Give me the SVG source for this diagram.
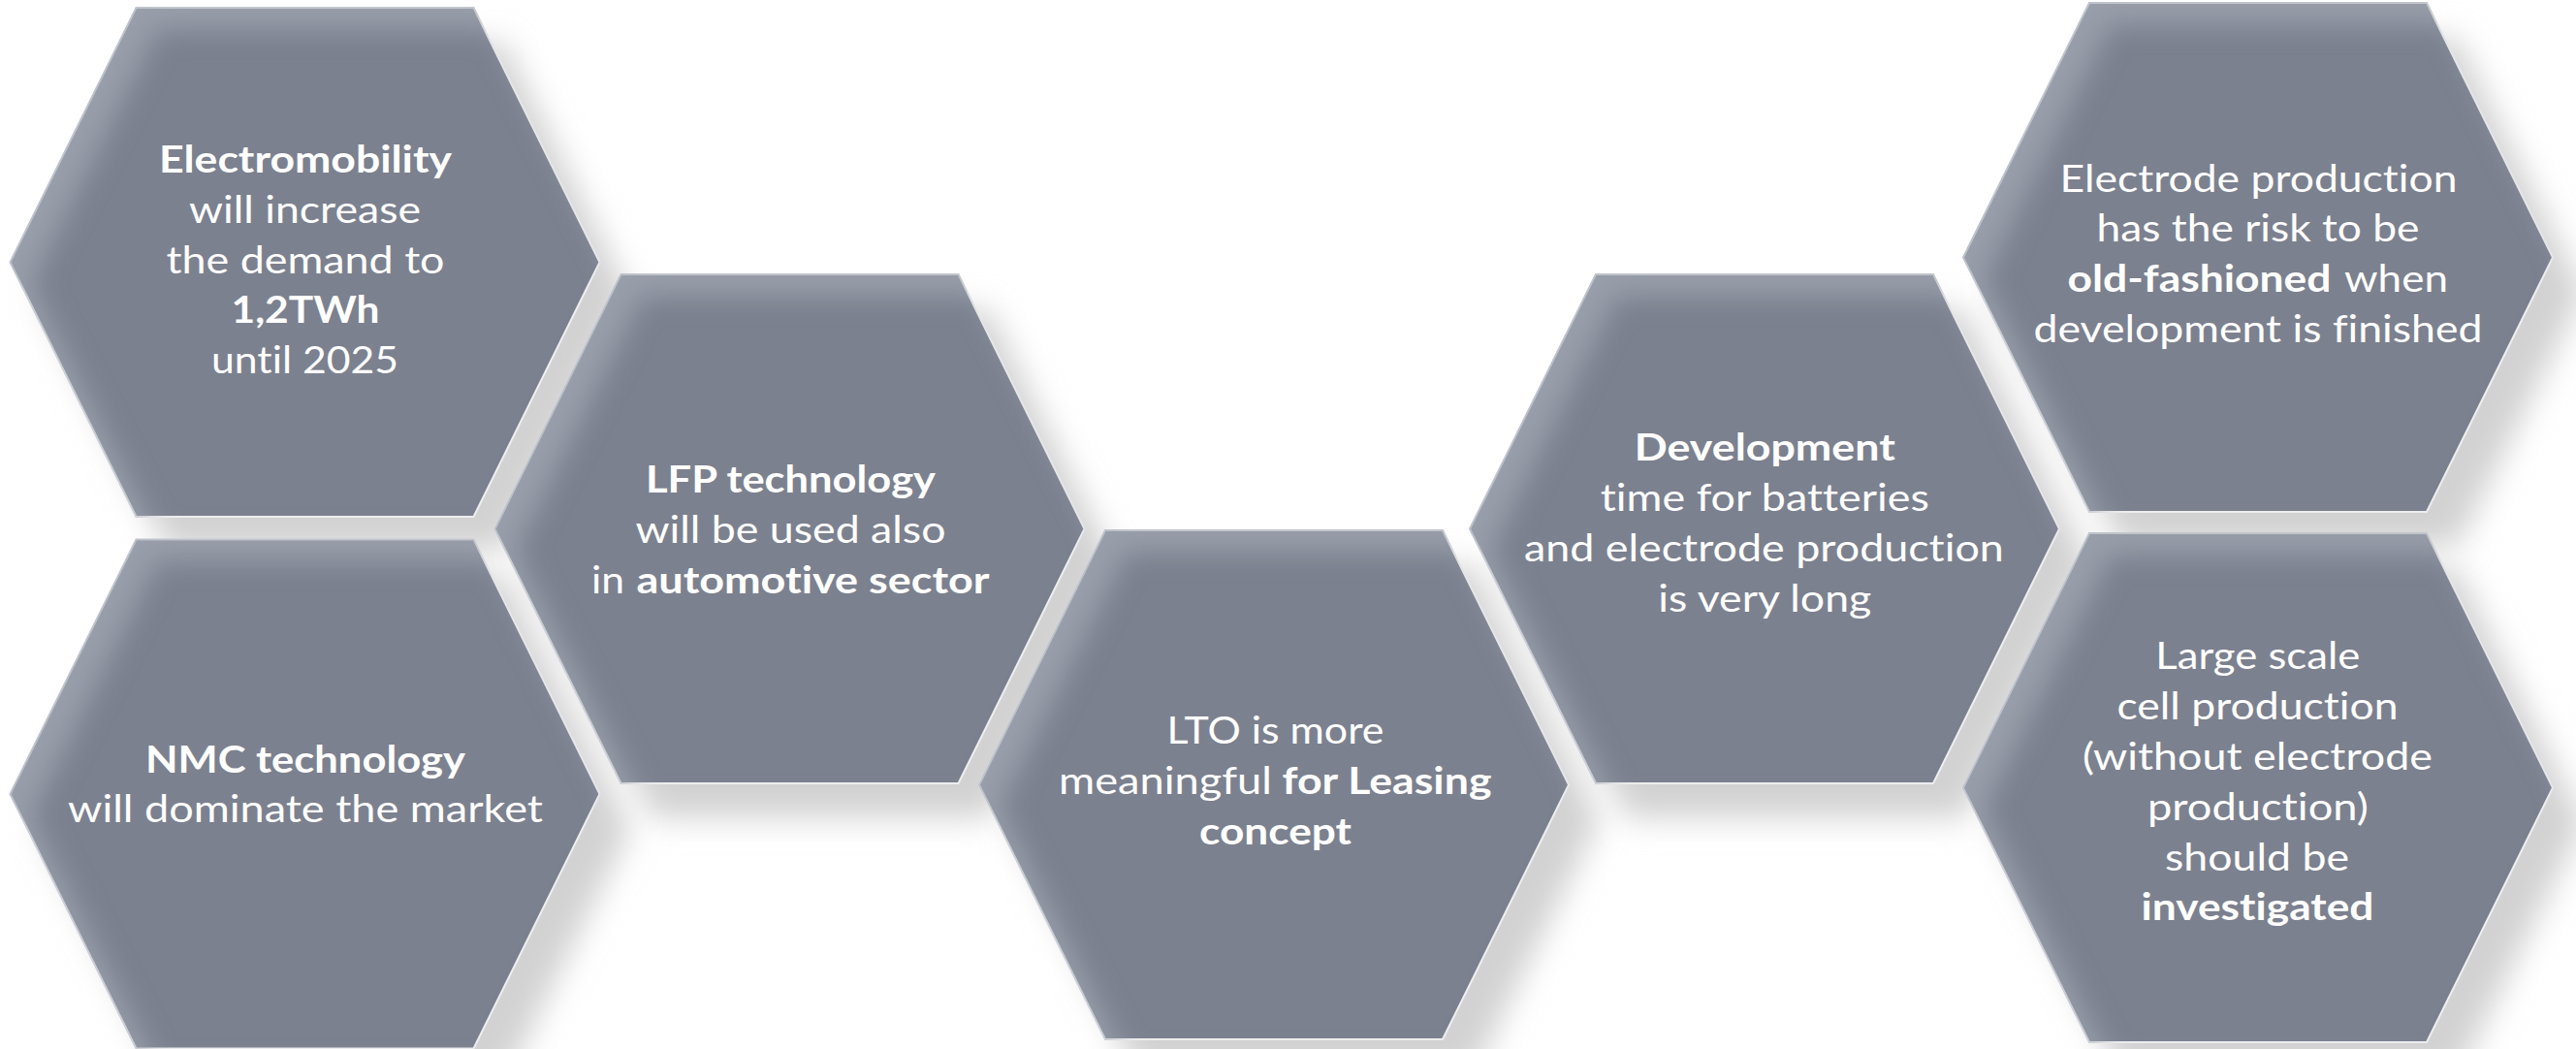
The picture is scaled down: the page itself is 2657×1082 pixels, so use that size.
<svg xmlns="http://www.w3.org/2000/svg" xmlns:xlink="http://www.w3.org/1999/xlink" width="2657" height="1082" viewBox="0 0 2657 1082">
  <style>
    .hex { fill: #7b818f; stroke: #eeeff1; stroke-width: 2; filter: url(#innerGlow); }
    .shadow { fill: #d2d2d2; filter: url(#softShadow); }
    text { font-family: Lato, "Open Sans", "Liberation Sans", sans-serif; font-size: 39px; fill: #ffffff; font-variant-ligatures: none; font-feature-settings: "liga" 0, "clig" 0; }
    .c { text-anchor: middle; }
    .b { font-weight: bold; }
  </style>
  <defs>
    <!-- flat-topped hexagon, 608 x 525 -->
    <polygon id="hex" points="0,262.5 130,0 478,0 608,262.5 478,525 130,525"/>
    <filter id="softShadow" x="-20%" y="-20%" width="140%" height="140%">
      <feGaussianBlur stdDeviation="16"/>
    </filter>
    <!-- lighter rim along the top and left edges -->
    <filter id="innerGlow" x="-5%" y="-5%" width="110%" height="110%">
      <feOffset in="SourceAlpha" dx="22" dy="22" result="off"/>
      <feGaussianBlur in="off" stdDeviation="14" result="blur"/>
      <feComposite in="SourceAlpha" in2="blur" operator="out" result="rim"/>
      <feFlood flood-color="#a3a9b4" flood-opacity="0.7"/>
      <feComposite in2="rim" operator="in" result="glow"/>
      <feMerge>
        <feMergeNode in="SourceGraphic"/>
        <feMergeNode in="glow"/>
      </feMerge>
    </filter>
  </defs>

  <rect width="2657" height="1082" fill="#ffffff"/>

  <!-- soft shadows under all cells -->
  <g id="shadows">
    <use xlink:href="#hex" class="shadow" x="42.5" y="44"/>
    <use xlink:href="#hex" class="shadow" x="42.5" y="592.5"/>
    <use xlink:href="#hex" class="shadow" x="542.5" y="319"/>
    <use xlink:href="#hex" class="shadow" x="1042" y="583"/>
    <use xlink:href="#hex" class="shadow" x="1548" y="319"/>
    <use xlink:href="#hex" class="shadow" x="2057" y="39"/>
    <use xlink:href="#hex" class="shadow" x="2057" y="586"/>
  </g>

  <g id="connectors"/>

  <g id="node-electromobility">
    <use xlink:href="#hex" class="hex" x="10.5" y="8"/>
    <text class="c b" x="315" y="177.5" textLength="302" lengthAdjust="spacingAndGlyphs">Electromobility</text>
    <text class="c" x="314.5" y="229.5" textLength="239" lengthAdjust="spacingAndGlyphs">will increase</text>
    <text class="c" x="315" y="281.5" textLength="287" lengthAdjust="spacingAndGlyphs">the demand to</text>
    <text class="c b" x="315" y="333" textLength="153" lengthAdjust="spacingAndGlyphs">1,2TWh</text>
    <text class="c" x="314.5" y="384.5" textLength="193" lengthAdjust="spacingAndGlyphs">until 2025</text>
  </g>

  <g id="node-nmc">
    <use xlink:href="#hex" class="hex" x="10.5" y="556.5"/>
    <text class="c b" x="315" y="796.5" textLength="330" lengthAdjust="spacingAndGlyphs">NMC technology</text>
    <text class="c" x="315" y="847.5" textLength="490" lengthAdjust="spacingAndGlyphs">will dominate the market</text>
  </g>

  <g id="node-lfp">
    <use xlink:href="#hex" class="hex" x="510.5" y="283"/>
    <text class="c b" x="815.5" y="508" textLength="299" lengthAdjust="spacingAndGlyphs">LFP technology</text>
    <text class="c" x="815.5" y="560" textLength="320" lengthAdjust="spacingAndGlyphs">will be used also</text>
    <text y="611.8"><tspan x="610" textLength="34" lengthAdjust="spacingAndGlyphs">in</tspan><tspan class="b" x="656.5" textLength="364" lengthAdjust="spacingAndGlyphs">automotive sector</tspan></text>
  </g>

  <g id="node-lto">
    <use xlink:href="#hex" class="hex" x="1010" y="547"/>
    <text class="c" x="1315.5" y="766.5" textLength="224" lengthAdjust="spacingAndGlyphs">LTO is more</text>
    <text y="818.5"><tspan x="1092" textLength="220" lengthAdjust="spacingAndGlyphs">meaningful</tspan><tspan class="b" x="1322.5" textLength="216" lengthAdjust="spacingAndGlyphs">for Leasing</tspan></text>
    <text class="c b" x="1315.5" y="871" textLength="157" lengthAdjust="spacingAndGlyphs">concept</text>
  </g>

  <g id="node-development">
    <use xlink:href="#hex" class="hex" x="1516" y="283"/>
    <text class="c b" x="1820.3" y="475.4" textLength="269" lengthAdjust="spacingAndGlyphs">Development</text>
    <text class="c" x="1820.3" y="527" textLength="339" lengthAdjust="spacingAndGlyphs">time for batteries</text>
    <text class="c" x="1819.4" y="579" textLength="495" lengthAdjust="spacingAndGlyphs">and electrode production</text>
    <text class="c" x="1820.3" y="630.7" textLength="220" lengthAdjust="spacingAndGlyphs">is very long</text>
  </g>

  <g id="node-electrode">
    <use xlink:href="#hex" class="hex" x="2025" y="3"/>
    <text class="c" x="2329.5" y="197.5" textLength="410" lengthAdjust="spacingAndGlyphs">Electrode production</text>
    <text class="c" x="2329" y="249.3" textLength="333" lengthAdjust="spacingAndGlyphs">has the risk to be</text>
    <text y="300.7"><tspan class="b" x="2132.5" textLength="272" lengthAdjust="spacingAndGlyphs">old-fashioned</tspan><tspan x="2418" textLength="107" lengthAdjust="spacingAndGlyphs">when</tspan></text>
    <text class="c" x="2329" y="352.9" textLength="463" lengthAdjust="spacingAndGlyphs">development is finished</text>
  </g>

  <g id="node-large-scale">
    <use xlink:href="#hex" class="hex" x="2025" y="550"/>
    <text class="c" x="2328.8" y="690.3" textLength="211" lengthAdjust="spacingAndGlyphs">Large scale</text>
    <text class="c" x="2328.5" y="742.2" textLength="290" lengthAdjust="spacingAndGlyphs">cell production</text>
    <text class="c" x="2328.5" y="794.2" textLength="361" lengthAdjust="spacingAndGlyphs">(without electrode</text>
    <text class="c" x="2328.9" y="846" textLength="228" lengthAdjust="spacingAndGlyphs">production)</text>
    <text class="c" x="2328" y="898" textLength="190" lengthAdjust="spacingAndGlyphs">should be</text>
    <text class="c b" x="2328.5" y="949.4" textLength="240" lengthAdjust="spacingAndGlyphs">investigated</text>
  </g>
</svg>
